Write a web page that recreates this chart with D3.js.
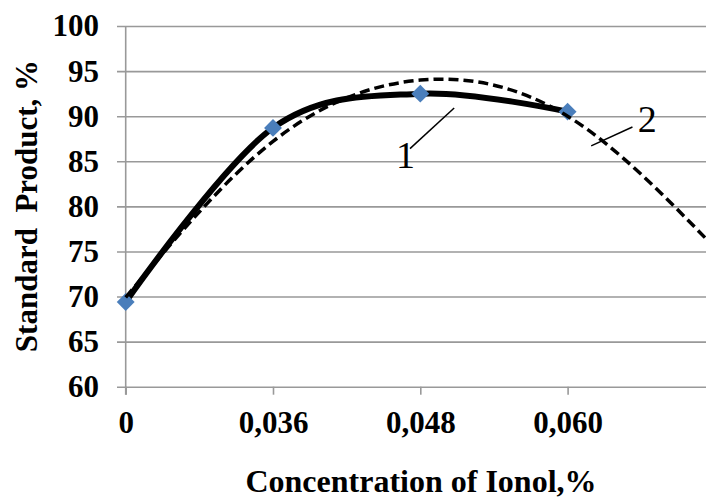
<!DOCTYPE html>
<html>
<head>
<meta charset="utf-8">
<script src="https://cdn.jsdelivr.net/npm/d3@7"></script>
<style>
  body { margin: 0; background: #fff; }
  text { font-family: "Liberation Serif", "Times New Roman", serif; }
</style>
</head>
<body>
<div id="chart"></div>
<script>
//Size of the picture
var w = 706;
var h = 500;

//Categories on the x axis (concentration of ionol, %)
var concLabels = ["0", "0,036", "0,048", "0,060"];
//Curve 1 - measured standard product, %
var standardProduct = [69.4, 88.7, 92.5, 90.5];
//Curve 2 - trend line (last point is the forecast step)
var trendPos = [0, 1, 2, 3, 4];
var trendValues = [69.9, 87.2, 94.0, 90.0, 75.4];
//Y ticks
var yTicks = [60, 65, 70, 75, 80, 85, 90, 95, 100];
//Curve labels: text, label pos, leader line start and end (x in category steps, y in %)
var curveLabels = [
	{ text: "1", lx: 1.9, ly: 84.3, x1: 1.93, y1: 86.4, x2: 2.23, y2: 90.9 },
	{ text: "2", lx: 3.54, ly: 88.2, x1: 3.16, y1: 86.7, x2: 3.44, y2: 88.8 }
];

var x = d3.scaleLinear()
	.domain([0, 1])
	.range([125.7, 273]);

var y = d3.scaleLinear()
	.domain([60, 100])
	.range([386.7, 26]);

var svg = d3.select("#chart")
	.append("svg")
	.attr("width", w)
	.attr("height", h);

//Horizontal gridlines + y labels
var yAxis = svg.append("g")
	.attr("transform", "translate(117,0)")
	.call(d3.axisLeft(y)
		.tickValues(yTicks)
		.tickSize(-(w - 117))
		.tickPadding(18));
yAxis.select(".domain").remove();
yAxis.selectAll("line")
	.attr("stroke", "#999")
	.attr("stroke-width", 1.6);
yAxis.selectAll("text")
	.attr("font-size", 31)
	.attr("font-weight", "bold")
	.attr("fill", "#000");

//Vertical axis line
svg.append("line")
	.attr("x1", x(0)).attr("x2", x(0))
	.attr("y1", y(100)).attr("y2", y(60) + 8)
	.attr("stroke", "#999")
	.attr("stroke-width", 1.6);

//X axis ticks and labels
var xAxis = svg.append("g")
	.attr("transform", "translate(0," + y(60) + ")")
	.call(d3.axisBottom(x)
		.tickValues(d3.range(concLabels.length))
		.tickFormat(function (d) { return concLabels[d]; })
		.tickSize(8)
		.tickPadding(16));
xAxis.select(".domain").remove();
xAxis.selectAll("line")
	.attr("stroke", "#999")
	.attr("stroke-width", 1.6);
xAxis.selectAll("text")
	.attr("font-size", 31)
	.attr("font-weight", "bold")
	.attr("fill", "#000");

//Curve 1 (solid)
var line1 = d3.line()
	.x(function (d, i) { return x(i); })
	.y(function (d) { return y(d); })
	.curve(d3.curveCardinal.tension(0));

svg.append("path")
	.datum(standardProduct)
	.attr("fill", "none")
	.attr("stroke", "#000")
	.attr("stroke-width", 6)
	.attr("d", line1);

//Markers
svg.selectAll("path.marker")
	.data(standardProduct)
	.enter()
	.append("path")
	.attr("class", "marker")
	.attr("d", d3.symbol().type(d3.symbolSquare).size(160))
	.attr("transform", function (d, i) {
		return "translate(" + x(i) + "," + y(d) + ") rotate(45)";
	})
	.attr("fill", "#4a7ebb");

//Curve 2 (dashed trend)
var line2 = d3.line()
	.x(function (d, i) { return x(trendPos[i]); })
	.y(function (d) { return y(d); })
	.curve(d3.curveNatural);

svg.append("path")
	.datum(trendValues)
	.attr("fill", "none")
	.attr("stroke", "#000")
	.attr("stroke-width", 3.5)
	.attr("stroke-dasharray", "10,5")
	.attr("d", line2);

//Curve labels with leader lines
var labels = svg.selectAll("g.curve-label")
	.data(curveLabels)
	.enter()
	.append("g")
	.attr("class", "curve-label");

labels.append("line")
	.attr("x1", function (d) { return x(d.x1); })
	.attr("y1", function (d) { return y(d.y1); })
	.attr("x2", function (d) { return x(d.x2); })
	.attr("y2", function (d) { return y(d.y2); })
	.attr("stroke", "#000")
	.attr("stroke-width", 1.5);

labels.append("text")
	.attr("x", function (d) { return x(d.lx); })
	.attr("y", function (d) { return y(d.ly); })
	.attr("text-anchor", "middle")
	.attr("font-size", 38)
	.text(function (d) { return d.text; });

//Axis titles
svg.append("text")
	.attr("x", 421)
	.attr("y", 492)
	.attr("text-anchor", "middle")
	.attr("font-size", 32)
	.attr("font-weight", "bold")
	.text("Concentration of Ionol,%");

svg.append("text")
	.attr("transform", "translate(37,206) rotate(-90)")
	.attr("text-anchor", "middle")
	.attr("font-size", 31)
	.attr("font-weight", "bold")
	.attr("xml:space", "preserve")
	.style("white-space", "pre")
	.text("Standard  Product, %");
</script>
</body>
</html>
